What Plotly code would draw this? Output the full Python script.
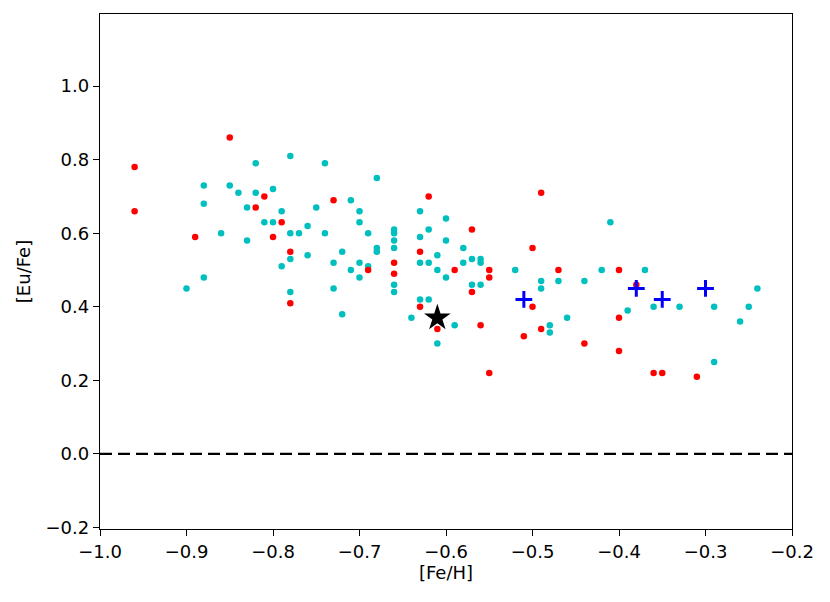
import plotly.graph_objects as go

# red sample
red_feh = [-0.96, -0.96, -0.85, -0.81, -0.82, -0.79, -0.89, -0.80, -0.78, -0.78,
           -0.73, -0.62, -0.69, -0.66, -0.66, -0.63, -0.59, -0.57, -0.57, -0.63,
           -0.61, -0.56, -0.49, -0.50, -0.55, -0.55, -0.47, -0.40, -0.38, -0.50,
           -0.40, -0.49, -0.51, -0.44, -0.40, -0.55, -0.36, -0.35, -0.31]
red_eufe = [0.78, 0.66, 0.86, 0.70, 0.67, 0.63, 0.59, 0.59, 0.55, 0.41,
            0.69, 0.70, 0.50, 0.52, 0.49, 0.55, 0.50, 0.61, 0.44, 0.40,
            0.34, 0.35, 0.71, 0.56, 0.50, 0.48, 0.50, 0.50, 0.46, 0.40,
            0.37, 0.34, 0.32, 0.30, 0.28, 0.22, 0.22, 0.22, 0.21]

# cyan sample
cyan_feh = [-0.78, -0.82, -0.88, -0.85, -0.84, -0.82, -0.80, -0.88, -0.83, -0.79,
            -0.81, -0.80, -0.86, -0.78, -0.77, -0.83, -0.78, -0.79, -0.88, -0.90,
            -0.78, -0.74, -0.68, -0.71, -0.75, -0.70, -0.63, -0.70, -0.60, -0.76,
            -0.74, -0.69, -0.66, -0.66, -0.66, -0.66, -0.63, -0.62, -0.60, -0.58,
            -0.57, -0.56, -0.56, -0.68, -0.68, -0.76, -0.72, -0.73, -0.70, -0.69,
            -0.71, -0.70, -0.66, -0.66, -0.63, -0.62, -0.61, -0.61, -0.60, -0.58,
            -0.57, -0.56, -0.73, -0.72, -0.63, -0.62, -0.64, -0.59, -0.61,
            -0.41, -0.52, -0.42, -0.49, -0.49, -0.47, -0.44, -0.39, -0.46, -0.48,
            -0.48, -0.37, -0.36, -0.33, -0.29, -0.25, -0.24, -0.26, -0.29]
cyan_eufe = [0.81, 0.79, 0.73, 0.73, 0.71, 0.71, 0.72, 0.68, 0.67, 0.66,
             0.63, 0.63, 0.60, 0.60, 0.60, 0.58, 0.53, 0.51, 0.48, 0.45,
             0.44, 0.79, 0.75, 0.69, 0.67, 0.66, 0.66, 0.63, 0.64, 0.62,
             0.60, 0.60, 0.61, 0.60, 0.58, 0.56, 0.59, 0.61, 0.58, 0.56,
             0.53, 0.53, 0.52, 0.56, 0.55, 0.54, 0.55, 0.52, 0.52, 0.51,
             0.50, 0.48, 0.46, 0.44, 0.52, 0.52, 0.54, 0.50, 0.48, 0.52,
             0.46, 0.46, 0.45, 0.38, 0.42, 0.42, 0.37, 0.35, 0.30,
             0.63, 0.50, 0.50, 0.47, 0.45, 0.47, 0.47, 0.39, 0.37, 0.35,
             0.33, 0.50, 0.40, 0.40, 0.40, 0.40, 0.45, 0.36, 0.25]

# blue crosses
blue_feh = [-0.51, -0.38, -0.35, -0.30]
blue_eufe = [0.42, 0.45, 0.42, 0.45]

# the star
star_feh = [-0.61]
star_eufe = [0.37]

fig = go.Figure()

fig.add_trace(go.Scatter(x=[-1.0, -0.2], y=[0, 0], mode="lines",
                         line=dict(color="black", width=2.2, dash="12px,6px")))
fig.add_trace(go.Scatter(x=cyan_feh, y=cyan_eufe, mode="markers",
                         marker=dict(color="#00BFBF", size=6.5)))
fig.add_trace(go.Scatter(x=red_feh, y=red_eufe, mode="markers",
                         marker=dict(color="#FF0000", size=6.5)))
fig.add_trace(go.Scatter(x=blue_feh, y=blue_eufe, mode="markers",
                         marker=dict(symbol="cross-thin", size=12,
                                     line=dict(color="#0000FF", width=3))))
fig.add_trace(go.Scatter(x=star_feh, y=star_eufe, mode="markers",
                         marker=dict(symbol="star", color="black", size=20)))

axis = dict(showline=True, linecolor="black", linewidth=1.3, mirror=True,
            ticks="outside", ticklen=6, tickwidth=1.3, tickcolor="black",
            showgrid=False, zeroline=False, tickformat=".1f",
            tickfont=dict(family="DejaVu Sans", size=18, color="black"),
            title_font=dict(family="DejaVu Sans", size=18, color="black"))

fig.update_xaxes(axis, range=[-1.0, -0.2], dtick=0.1, tick0=-1.0,
                 title_text="[Fe/H]", title_standoff=4)
fig.update_yaxes(axis, range=[-0.204, 1.196], dtick=0.2, tick0=0,
                 title_text="[Eu/Fe]", title_standoff=10)

# page body has an 8px margin, so shift the figure back by that much
fig.update_layout(width=822, height=594, showlegend=False,
                  plot_bgcolor="white", paper_bgcolor="white",
                  margin=dict(l=92, r=38, t=6, b=73))

fig.write_html("out.html")
